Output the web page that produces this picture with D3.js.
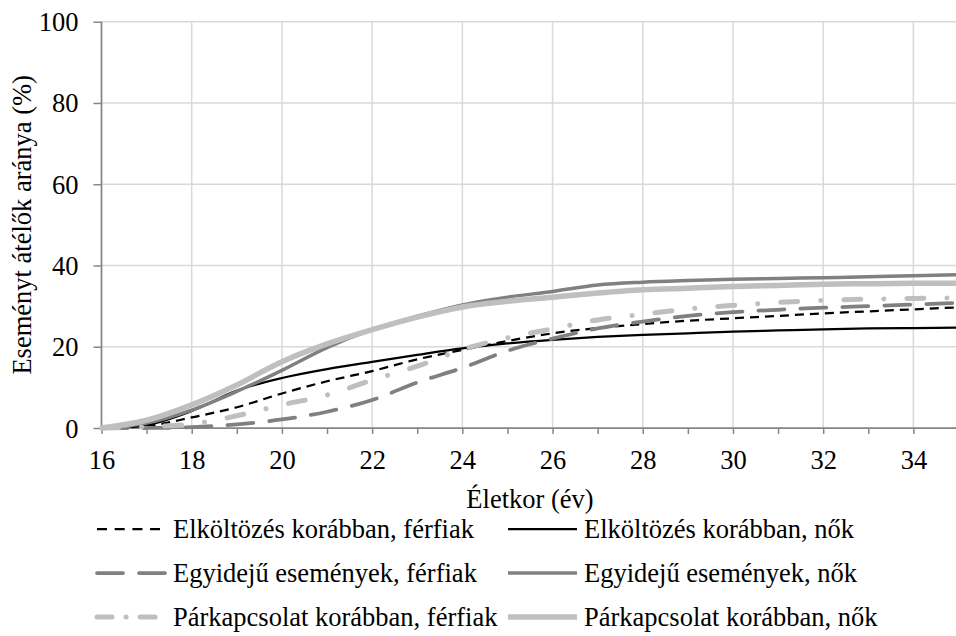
<!DOCTYPE html>
<html>
<head>
<meta charset="utf-8">
<script src="https://cdn.jsdelivr.net/npm/d3@7"></script>
<style>
  html, body { margin: 0; padding: 0; background: #fff; }
  svg { display: block; }
</style>
</head>
<body>
<svg id="chart" width="956" height="636"></svg>
<script>
const ages = [16,17,18,19,20,21,22,23,24,25,26,27,28,29,30,31,32,33,34,35];
const xTicks = [16,18,20,22,24,26,28,30,32,34];
const yTicks = [0,20,40,60,80,100];

const elkFerfi = [0,0.5,2.6,5.1,8.5,11.5,14.0,16.9,19.2,21.4,23.3,24.6,25.6,26.4,27.0,27.6,28.2,28.7,29.2,29.7];
const elkNok   = [0,0.8,4.2,9.2,12.3,14.5,16.3,18.0,19.6,20.8,21.7,22.4,22.9,23.3,23.7,24.0,24.3,24.5,24.6,24.7];
const egyFerfi = [0,0,0.2,0.9,2.1,4.0,6.9,11.2,14.8,19.0,22.0,24.5,26.2,27.6,28.5,29.1,29.6,30.0,30.4,30.8];
const egyNok   = [0,1.2,4.4,9.0,14.2,19.8,24.2,27.5,30.3,32.2,33.6,35.2,35.9,36.3,36.6,36.8,37.0,37.2,37.5,37.7];
const parFerfi = [0,0.3,1.0,3.0,5.7,8.1,11.8,15.2,19.3,22.2,24.4,26.6,28.0,29.3,30.2,30.9,31.4,31.7,31.9,32.0];
const parNok   = [0,1.9,5.7,10.6,16.3,20.7,24.2,27.3,29.8,31.2,32.2,33.2,34.0,34.4,34.8,35.1,35.4,35.5,35.6,35.6];

const seriesNames = [
  "Elköltözés korábban, férfiak",
  "Elköltözés korábban, nők",
  "Egyidejű események, férfiak",
  "Egyidejű események, nők",
  "Párkapcsolat korábban, férfiak",
  "Párkapcsolat korábban, nők"
];
const seriesValues = [elkFerfi, elkNok, egyFerfi, egyNok, parFerfi, parNok];

const styles = [
  {color: "#000000", width: 2.25, dash: "9,6", cap: "butt"},
  {color: "#000000", width: 2.25, dash: null, cap: "butt"},
  {color: "#808080", width: 3.75, dash: "26,16", cap: "round"},
  {color: "#808080", width: 3.5, dash: null, cap: "butt"},
  {color: "#bfbfbf", width: 5, dash: "17,23,0.1,23", cap: "round"},
  {color: "#bfbfbf", width: 5.5, dash: null, cap: "butt"}
];

const FONT = "'Liberation Serif'";
const FS = 26.5;
const svg = d3.select("#chart");
const x = d3.scaleLinear().domain([16, 35]).range([101.5, 958.5]);
const y = d3.scaleLinear().domain([0, 100]).range([428, 21.7]);

// grid
const grid = svg.append("g");
grid.selectAll("line.h").data(yTicks.filter(d => d > 0)).enter().append("line")
  .attr("x1", x(16)).attr("x2", 956)
  .attr("y1", d => y(d)).attr("y2", d => y(d))
  .attr("stroke", "#d9d9d9").attr("stroke-width", 1.5);
grid.selectAll("line.v").data(xTicks.filter(d => d > 16)).enter().append("line")
  .attr("x1", d => x(d)).attr("x2", d => x(d))
  .attr("y1", y(0)).attr("y2", y(100))
  .attr("stroke", "#d9d9d9").attr("stroke-width", 1.5);

// axes
const xAxis = d3.axisBottom(x).tickValues(ages).tickSize(6).tickFormat(d => xTicks.includes(d) ? d : "");
const gx = svg.append("g").attr("transform", `translate(0,${y(0)})`).call(xAxis);
gx.attr("font-family", FONT).attr("font-size", FS);
gx.select(".domain").attr("stroke", "#868686").attr("stroke-width", 1.75).attr("d", `M${x(16)},0H956`);
gx.selectAll(".tick line").attr("stroke", "#868686").attr("stroke-width", 1.5);
gx.selectAll(".tick text").attr("font-family", FONT).attr("font-size", FS).attr("fill", "#000").attr("dy", null).attr("y", 41);

const yAxis = d3.axisLeft(y).tickValues(yTicks).tickSize(8).tickPadding(15);
const gy = svg.append("g").attr("transform", `translate(${x(16)},0)`).call(yAxis);
gy.attr("font-family", FONT).attr("font-size", FS);
gy.select(".domain").attr("stroke", "#868686").attr("stroke-width", 1.75).attr("d", `M0,${y(0)}V${y(100)}`);
gy.selectAll(".tick line").attr("stroke", "#868686").attr("stroke-width", 1.5);
gy.selectAll(".tick text").attr("font-family", FONT).attr("font-size", FS).attr("fill", "#000").attr("dy", "0.34em");

// lines
const line = d3.line().x((d, i) => x(ages[i])).y(d => y(d)).curve(d3.curveMonotoneX);
const lines = svg.append("g");
seriesValues.forEach((vals, i) => {
  const s = styles[i];
  lines.append("path").datum(vals)
    .attr("d", line)
    .attr("fill", "none")
    .attr("stroke", s.color)
    .attr("stroke-width", s.width)
    .attr("stroke-dasharray", s.dash)
    .attr("stroke-linecap", s.cap)
    .attr("stroke-linejoin", "round");
});

// axis titles
svg.append("text").attr("x", 530).attr("y", 508).attr("text-anchor", "middle")
  .attr("font-family", FONT).attr("font-size", FS).attr("fill", "#000").text("Életkor (év)");
svg.append("text").attr("transform", `translate(31,${(y(0) + y(100)) / 2}) rotate(-90)`)
  .attr("text-anchor", "middle").attr("font-family", FONT).attr("font-size", FS).attr("fill", "#000")
  .text("Eseményt átélők aránya (%)");

// legend
const legendPos = [
  {lx: 97, ly: 529}, {lx: 508, ly: 529},
  {lx: 97, ly: 573}, {lx: 508, ly: 573},
  {lx: 97, ly: 617}, {lx: 508, ly: 617}
];
const legend = svg.append("g");
seriesNames.forEach((name, i) => {
  const s = styles[i];
  const p = legendPos[i];
  const len = i === 0 ? 63 : 69;
  legend.append("line")
    .attr("x1", p.lx).attr("x2", p.lx + len)
    .attr("y1", p.ly).attr("y2", p.ly)
    .attr("stroke", s.color).attr("stroke-width", s.width)
    .attr("stroke-dasharray", i === 0 ? "10,7.7" : (i === 4 ? "15,14,0.1,14" : s.dash))
    .attr("stroke-linecap", s.cap);
  legend.append("text")
    .attr("x", p.lx + 76).attr("y", p.ly).attr("dy", "0.34em")
    .attr("font-family", FONT).attr("font-size", FS).attr("fill", "#000").text(name);
});
</script>
</body>
</html>
